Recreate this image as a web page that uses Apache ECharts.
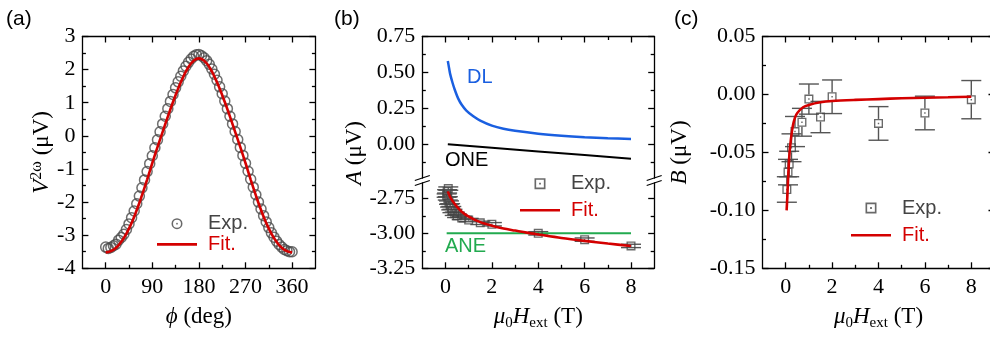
<!DOCTYPE html>
<html>
<head>
<meta charset="utf-8">
<script src="https://cdn.jsdelivr.net/npm/echarts@6.0.0/dist/echarts.min.js"></script>
<style>
  html, body { margin: 0; padding: 0; background: #fff; }
  #chart { width: 990px; height: 339px; }
</style>
</head>
<body>
<div id="chart"></div>
<script>
// ---- (a) V2w vs phi ----
const phiExp = [0, 5, 10, 15, 20, 25, 30, 35, 40, 45, 50, 55, 60, 65, 70, 75, 80, 85, 90, 95,
  100, 105, 110, 115, 120, 125, 130, 135, 140, 145, 150, 155, 160, 165, 170, 175, 180,
  185, 190, 195, 200, 205, 210, 215, 220, 225, 230, 235, 240, 245, 250, 255, 260, 265, 270,
  275, 280, 285, 290, 295, 300, 305, 310, 315, 320, 325, 330, 335, 340, 345, 350, 355, 360]
const v2wExp = [-3.36, -3.40, -3.37, -3.32, -3.27, -3.15, -3.07, -2.97, -2.83, -2.66, -2.47, -2.27, -2.05, -1.82, -1.57, -1.33, -1.08, -0.84, -0.60, -0.36,
  -0.12, 0.12, 0.36, 0.59, 0.82, 1.04, 1.25, 1.45, 1.63, 1.80, 1.96, 2.10, 2.22, 2.32, 2.40, 2.45, 2.46,
  2.42, 2.36, 2.27, 2.16, 2.02, 1.86, 1.68, 1.48, 1.27, 1.05, 0.82, 0.59, 0.36, 0.13, -0.11, -0.35, -0.59, -0.83,
  -1.07, -1.31, -1.55, -1.78, -2.00, -2.21, -2.41, -2.60, -2.77, -2.93, -3.06, -3.18, -3.28, -3.36, -3.43, -3.47, -3.50, -3.50]
const phiFit = [0, 10, 20, 30, 40, 50, 60, 70, 80, 90, 100, 110, 120, 130, 140, 150, 160, 170, 180,
  190, 200, 210, 220, 230, 240, 250, 260, 270, 280, 290, 300, 310, 320, 330, 340, 350, 360]
const v2wFit = [-3.52, -3.48, -3.38, -3.20, -2.95, -2.63, -2.24, -1.80, -1.32, -0.82, -0.34, 0.12, 0.58, 1.02, 1.43, 1.79, 2.08, 2.27, 2.34,
  2.27, 2.08, 1.79, 1.43, 1.02, 0.58, 0.12, -0.34, -0.82, -1.32, -1.80, -2.24, -2.63, -2.95, -3.20, -3.38, -3.48, -3.52]

// ---- (b) A vs field ----
const hB = [0.05, 0.07, 0.1, 0.12, 0.15, 0.2, 0.25, 0.3, 0.4, 0.5, 0.7, 1, 1.5, 2, 4, 6, 8]
const aExp = [-2.73, -2.70, -2.75, -2.68, -2.78, -2.80, -2.82, -2.84, -2.86, -2.875, -2.89, -2.905, -2.925, -2.935, -3.0, -3.045, -3.09]
const aErr = [0.012, 0.012, 0.012, 0.012, 0.012, 0.012, 0.012, 0.012, 0.012, 0.012, 0.012, 0.012, 0.012, 0.012, 0.012, 0.012, 0.012]
const hBFit = [0.1, 0.2, 0.35, 0.5, 0.7, 1, 1.5, 2, 2.5, 3, 3.5, 4, 5, 6, 7, 8]
const aFit = [-2.70, -2.74, -2.78, -2.81, -2.845, -2.88, -2.92, -2.945, -2.965, -2.98, -2.995, -3.008, -3.033, -3.054, -3.073, -3.09]
const hDL = [0.1, 0.15, 0.2, 0.3, 0.4, 0.55, 0.7, 0.9, 1.2, 1.5, 2, 2.5, 3, 4, 5, 6, 7, 8]
const aDL = [0.58, 0.535, 0.49, 0.43, 0.38, 0.318, 0.275, 0.235, 0.195, 0.165, 0.13, 0.108, 0.094, 0.074, 0.06, 0.05, 0.043, 0.038]
const hONE = [0.1, 2, 4, 6, 8]
const aONE = [0.0, -0.024, -0.049, -0.074, -0.1]
const hANE = [0.05, 8]
const aANE = [-3.0, -3.0]

// ---- (c) B vs field ----
const hC = [0.05, 0.1, 0.15, 0.25, 0.4, 0.7, 1, 1.5, 2, 4, 6, 8]
const bExp = [-0.082, -0.067, -0.060, -0.046, -0.032, -0.024, -0.004, -0.0195, -0.002, -0.025, -0.016, -0.0045]
const bErr = [0.011, 0.011, 0.011, 0.012, 0.013, 0.012, 0.013, 0.0135, 0.0145, 0.0145, 0.0145, 0.0165]
const hCFit = [0.04, 0.07, 0.1, 0.15, 0.2, 0.3, 0.4, 0.5, 0.75, 1, 1.5, 2, 3, 4, 5, 6, 7, 8]
const bFit = [-0.1, -0.088, -0.074, -0.055, -0.043, -0.028, -0.02, -0.016, -0.011, -0.009, -0.0068, -0.0057, -0.0047, -0.004, -0.0033, -0.0028, -0.0024, -0.002]

// ---- ticks ----
const phiMajor = [0, 90, 180, 270, 360]
const phiMinor = [45, 135, 225, 315]
const hMajor = [0, 2, 4, 6, 8]
const hMinor = [1, 3, 5, 7]
const vMajor = [-4, -3, -2, -1, 0, 1, 2, 3]
const vMinor = [-3.5, -2.5, -1.5, -0.5, 0.5, 1.5, 2.5]
const aUpMajor = [0, 0.25, 0.5, 0.75]
const aUpMinor = [-0.125, 0.125, 0.375, 0.625]
const aLoMajor = [-3.25, -3.0, -2.75]
const aLoMinor = [-3.125, -2.875]
const bMajor = [-0.15, -0.1, -0.05, 0, 0.05]
const bMinor = [-0.125, -0.075, -0.025, 0.025]

const SERIF = '"Liberation Serif", "Times New Roman", serif'
const SANS = '"Liberation Sans", Arial, sans-serif'
const RED = "#d40000"
const BLUE = "#1a5fe0"
const GREEN = "#22aa4f"
const CIRCLE_ICON = "path://M0,5A5,5,0,1,1,10,5A5,5,0,1,1,0,5Z M1.4,5A3.6,3.6,0,1,0,8.6,5A3.6,3.6,0,1,0,1.4,5Z M4.2,5A0.8,0.8,0,1,1,5.8,5A0.8,0.8,0,1,1,4.2,5Z"
const SQUARE_ICON = "path://M0,0H10V10H0Z M1.5,1.5V8.5H8.5V1.5Z M4.2,4.2H5.8V5.8H4.2Z"
const LINE_ICON = "path://M0,0H40V2.6H0Z"

const zip = (xs, ys) => xs.map((x, i) => [x, ys[i]])
const fix2 = (v) => {
  const s = v.toFixed(2)
  return s === "-0.00" ? "0.00" : s
}

const rich = {
  i: { fontFamily: SERIF, fontStyle: "italic", fontSize: 23, lineHeight: 26, color: "#000" },
  n: { fontFamily: SERIF, fontSize: 23, lineHeight: 26, color: "#000" },
  sub: { fontFamily: SERIF, fontSize: 15, lineHeight: 10, verticalAlign: "bottom", color: "#000" },
  sup: { fontFamily: SERIF, fontSize: 16, lineHeight: 10, verticalAlign: "top", color: "#000" },
}
const nameStyle = { fontFamily: SERIF, fontSize: 23, color: "#000", rich: rich }
const fieldName = "{i|μ}{sub|0}{i|H}{sub|ext}{n| (T)}"

// ---- axes: every side gets a major-tick axis and a minor-tick axis ----
const xAxis = []
const yAxis = []

function makeAxis(grid, pos, min, max, ticks, len, showLine, label) {
  return {
    type: "value",
    gridIndex: grid,
    position: pos,
    min: min,
    max: max,
    axisLine: { show: showLine, onZero: false, lineStyle: { color: "#000", width: 1.3 } },
    axisTick: { show: true, inside: true, length: len, customValues: ticks, lineStyle: { color: "#000", width: 1.3 } },
    axisLabel: label
      ? Object.assign({ show: true, customValues: ticks, color: "#000", fontFamily: SERIF, fontSize: 22 }, label)
      : { show: false },
    splitLine: { show: false },
  }
}

function side(list, grid, pos, min, max, major, minor, label, extra) {
  list.push(Object.assign(makeAxis(grid, pos, min, max, major, 6, true, label), extra || {}))
  const idx = list.length - 1
  list.push(makeAxis(grid, pos, min, max, minor, 3.5, false, null))
  return idx
}

// grid 0: panel (a)
const xa = side(xAxis, 0, "bottom", -45, 405, phiMajor, phiMinor, { margin: 8 }, {
  name: "{i|ϕ}{n| (deg)}", nameLocation: "middle", nameGap: 36, nameTextStyle: nameStyle,
})
side(xAxis, 0, "top", -45, 405, phiMajor, phiMinor, null)
const ya = side(yAxis, 0, "left", -4, 3, vMajor, vMinor, { margin: 7, formatter: (v) => String(v) }, {
  name: "{i|V}{sup|2ω}{n| (μV)}", nameLocation: "middle", nameRotate: 90, nameGap: 27, nameTextStyle: nameStyle,
})
side(yAxis, 0, "right", -4, 3, vMajor, vMinor, null)

// grid 1: panel (b) upper part, grid 2: panel (b) lower part
const xbUp = side(xAxis, 1, "top", -1, 9, hMajor, hMinor, null)
const ybUp = side(yAxis, 1, "left", -0.234, 0.75, aUpMajor, aUpMinor, { margin: 7, formatter: fix2 })
side(yAxis, 1, "right", -0.234, 0.75, aUpMajor, aUpMinor, null)
const xbLo = side(xAxis, 2, "bottom", -1, 9, hMajor, hMinor, { margin: 8 }, {
  name: fieldName, nameLocation: "middle", nameGap: 36, nameTextStyle: nameStyle,
})
const ybLo = side(yAxis, 2, "left", -3.25, -2.64, aLoMajor, aLoMinor, { margin: 7, formatter: fix2 })
side(yAxis, 2, "right", -3.25, -2.64, aLoMajor, aLoMinor, null)

// grid 3: panel (c)
const xc = side(xAxis, 3, "bottom", -1, 9, hMajor, hMinor, { margin: 8 }, {
  name: fieldName, nameLocation: "middle", nameGap: 36, nameTextStyle: nameStyle,
})
side(xAxis, 3, "top", -1, 9, hMajor, hMinor, null)
const yc = side(yAxis, 3, "left", -0.15, 0.05, bMajor, bMinor, { margin: 7, formatter: fix2 }, {
  name: "{i|B}{n| (μV)}", nameLocation: "middle", nameRotate: 90, nameGap: 70, nameTextStyle: nameStyle,
})
side(yAxis, 3, "right", -0.15, 0.05, bMajor, bMinor, null)

function errorBars(xIdx, yIdx, xs, ys, es) {
  return {
    type: "custom",
    name: "err",
    xAxisIndex: xIdx,
    yAxisIndex: yIdx,
    data: xs.map((x, i) => [x, ys[i], es[i]]),
    encode: { x: 0, y: 1 },
    silent: true,
    z: 2,
    renderItem: function (params, api) {
      const x = api.value(0)
      const y = api.value(1)
      const e = api.value(2)
      const c = api.coord([x, y])
      const hi = api.coord([x, y + e])
      const lo = api.coord([x, y - e])
      const st = { stroke: "#555", lineWidth: 1.4, fill: null }
      const half = 4.5
      const kids = [
        { type: "line", shape: { x1: hi[0] - 10, y1: hi[1], x2: hi[0] + 10, y2: hi[1] }, style: st },
        { type: "line", shape: { x1: lo[0] - 10, y1: lo[1], x2: lo[0] + 10, y2: lo[1] }, style: st },
      ]
      if (c[1] - hi[1] > half) kids.push({ type: "line", shape: { x1: c[0], y1: hi[1], x2: c[0], y2: c[1] - half }, style: st })
      if (lo[1] - c[1] > half) kids.push({ type: "line", shape: { x1: c[0], y1: c[1] + half, x2: c[0], y2: lo[1] }, style: st })
      return { type: "group", children: kids }
    },
  }
}

function legendAt(left, top, gap, icon) {
  return {
    orient: "vertical",
    left: left,
    top: top,
    padding: 0,
    itemGap: gap,
    itemWidth: 40,
    itemHeight: 11,
    selectedMode: false,
    textStyle: { fontFamily: SANS, fontSize: 20, lineHeight: 16, padding: [0, 0, 0, 6] },
    data: [
      { name: "Exp.", icon: icon, itemStyle: { color: "#444", borderWidth: 0 }, textStyle: { color: "#444" } },
      { name: "Fit.", icon: LINE_ICON, itemStyle: { color: RED, borderWidth: 0 }, textStyle: { color: RED } },
    ],
  }
}

function label(text, left, top, color, size) {
  return {
    type: "text",
    left: left,
    top: top,
    style: { text: text, fill: color, fontFamily: SANS, fontSize: size || 20 },
  }
}

function breakMark(x) {
  const st = { stroke: "#000", lineWidth: 1.3 }
  return [
    { type: "line", shape: { x1: x - 7.5, y1: 180.5, x2: x + 7.5, y2: 175.5 }, style: st },
    { type: "line", shape: { x1: x - 7.5, y1: 185.5, x2: x + 7.5, y2: 180.5 }, style: st },
  ]
}

const option = {
  backgroundColor: "#fff",
  animation: false,
  grid: [
    { left: 82.4, top: 36.5, width: 233, height: 231.8, outerBoundsMode: "none" },
    { left: 422.3, top: 36.5, width: 231.9, height: 141.5, outerBoundsMode: "none" },
    { left: 422.3, top: 183, width: 231.9, height: 85.3, outerBoundsMode: "none" },
    { left: 762.5, top: 36.5, width: 232, height: 231.8, outerBoundsMode: "none" },
  ],
  xAxis: xAxis,
  yAxis: yAxis,
  legend: [
    legendAt(157, 213.7, 0.7, CIRCLE_ICON),
    legendAt(520, 173.7, 6.6, SQUARE_ICON),
    legendAt(851, 198, 7.3, SQUARE_ICON),
  ],
  graphic: [
    label("(a)", 6, 9, "#000", 21),
    label("(b)", 334, 9, "#000", 21),
    label("(c)", 674, 9, "#000", 21),
    label("DL", 467, 67, BLUE),
    label("ONE", 445, 150, "#000"),
    label("ANE", 445, 236, GREEN),
    {
      type: "text",
      x: 355,
      y: 153,
      rotation: Math.PI / 2,
      style: {
        text: "{i|A}{n| (μV)}",
        align: "center",
        verticalAlign: "middle",
        fontFamily: SERIF,
        fontSize: 23,
        fill: "#000",
        rich: rich,
      },
    },
    ...breakMark(422.3),
    ...breakMark(654.2),
  ],
  series: [
    {
      name: "Exp.", type: "scatter", xAxisIndex: xa, yAxisIndex: ya,
      data: zip(phiExp, v2wExp), symbol: "circle", symbolSize: 10,
      itemStyle: { color: "rgba(0,0,0,0)", borderColor: "#4a4a4a", borderWidth: 1.5 }, z: 3,
    },
    {
      name: "Fit.", type: "line", xAxisIndex: xa, yAxisIndex: ya,
      data: zip(phiFit, v2wFit), symbol: "none", smooth: true,
      lineStyle: { color: RED, width: 2.6 }, itemStyle: { color: RED }, z: 4,
    },
    errorBars(xbLo, ybLo, hB, aExp, aErr),
    {
      name: "Exp.", type: "scatter", xAxisIndex: xbLo, yAxisIndex: ybLo,
      data: zip(hB, aExp), symbol: SQUARE_ICON, symbolSize: 9,
      itemStyle: { color: "#444" }, z: 3,
    },
    {
      name: "Fit.", type: "line", xAxisIndex: xbLo, yAxisIndex: ybLo,
      data: zip(hBFit, aFit), symbol: "none", smooth: 0.3,
      lineStyle: { color: RED, width: 2.6 }, itemStyle: { color: RED }, z: 4,
    },
    {
      name: "ANE", type: "line", xAxisIndex: xbLo, yAxisIndex: ybLo,
      data: zip(hANE, aANE), symbol: "none",
      lineStyle: { color: GREEN, width: 2 }, itemStyle: { color: GREEN }, z: 3,
    },
    {
      name: "DL", type: "line", xAxisIndex: xbUp, yAxisIndex: ybUp,
      data: zip(hDL, aDL), symbol: "none", smooth: 0.3,
      lineStyle: { color: BLUE, width: 2.5 }, itemStyle: { color: BLUE },
    },
    {
      name: "ONE", type: "line", xAxisIndex: xbUp, yAxisIndex: ybUp,
      data: zip(hONE, aONE), symbol: "none",
      lineStyle: { color: "#000", width: 2 }, itemStyle: { color: "#000" },
    },
    errorBars(xc, yc, hC, bExp, bErr),
    {
      name: "Exp.", type: "scatter", xAxisIndex: xc, yAxisIndex: yc,
      data: zip(hC, bExp), symbol: SQUARE_ICON, symbolSize: 9,
      itemStyle: { color: "#444" }, z: 3,
    },
    {
      name: "Fit.", type: "line", xAxisIndex: xc, yAxisIndex: yc,
      data: zip(hCFit, bFit), symbol: "none", smooth: 0.3,
      lineStyle: { color: RED, width: 2.6 }, itemStyle: { color: RED }, z: 4,
    },
  ],
}

const chart = echarts.init(document.getElementById("chart"), null, { renderer: "canvas" })
chart.setOption(option)
</script>
</body>
</html>
